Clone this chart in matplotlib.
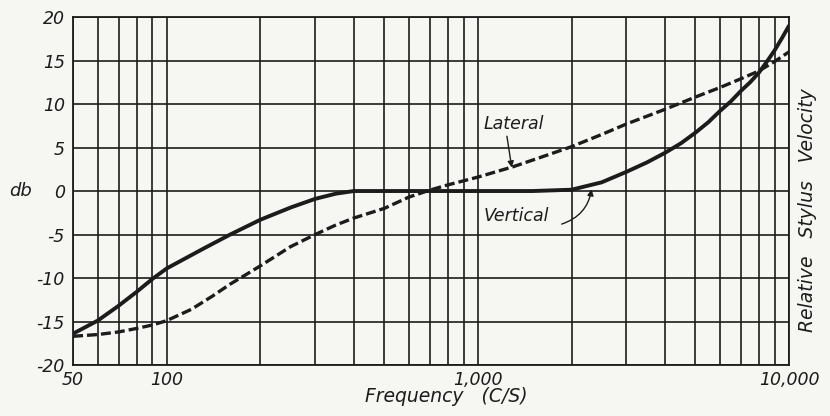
import matplotlib
matplotlib.use('Agg')
import matplotlib.pyplot as plt
from matplotlib.ticker import FixedLocator, NullFormatter

# values (frequency in c/s, level in db)
vert_freq = [50, 60, 70, 80, 90, 100, 130, 160, 200, 250, 300, 350, 400, 500, 700,
             1000, 1500, 2000, 2500, 3000, 3500, 4000, 4500, 5000, 5500, 6000, 6500,
             7000, 7500, 8000, 8500, 9000, 9500, 10000]
vert_db = [-16.4, -14.9, -13.2, -11.6, -10.1, -8.9, -6.7, -5.0, -3.3, -1.9, -0.9, -0.3, 0.0,
           0.0, 0.0, 0.0, 0.0, 0.15, 1.0, 2.2, 3.3, 4.4, 5.5, 6.7, 7.9, 9.2, 10.3,
           11.5, 12.5, 13.6, 14.9, 16.2, 17.6, 19.0]

lat_freq = [50, 60, 70, 80, 90, 100, 120, 140, 160, 180, 200, 250, 300, 350, 400, 500,
            600, 700, 800, 1000, 1300, 1600, 2000, 2500, 3000, 4000, 5000, 6000, 7000,
            8000, 9000, 10000]
lat_db = [-16.7, -16.5, -16.2, -15.8, -15.4, -14.9, -13.6, -12.1, -10.7, -9.6, -8.6, -6.4,
          -5.0, -3.9, -3.1, -2.0, -0.7, 0.1, 0.7, 1.6, 2.8, 3.9, 5.1, 6.5, 7.7, 9.4,
          10.8, 11.9, 12.9, 13.8, 14.9, 16.0]

major_freq = [50, 100, 1000, 10000]
major_labels = ['50', '100', '1,000', '10,000']
minor_freq = [60, 70, 80, 90, 200, 300, 400, 500, 600, 700, 800, 900,
              2000, 3000, 4000, 5000, 6000, 7000, 8000, 9000]
db_ticks = [-20, -15, -10, -5, 0, 5, 10, 15, 20]
db_labels = ['-20', '-15', '-10', '-5', '0', '5', '10', '15', '20']

ink = '#1c1c1c'
paper = '#f6f6f3'

plt.rcParams['font.family'] = ['DejaVu Sans']
plt.rcParams['font.style'] = 'italic'

fig = plt.figure(figsize=(8.3, 4.16), dpi=100, facecolor=paper)
ax = fig.add_axes([0.088, 0.1226, 0.8626, 0.8364])
ax.set_facecolor(paper)

ax.set_xscale('log')
ax.set_xlim(50, 10000)
ax.set_ylim(-20, 20)

ax.xaxis.set_major_locator(FixedLocator(major_freq))
ax.set_xticklabels(major_labels)
ax.xaxis.set_minor_locator(FixedLocator(minor_freq))
ax.xaxis.set_minor_formatter(NullFormatter())
ax.set_yticks(db_ticks)
ax.set_yticklabels(db_labels)

ax.grid(True, which='both', color=ink, linewidth=1.2)
ax.tick_params(which='both', length=0, colors=ink, labelsize=12.5)
ax.tick_params(axis='y', pad=6)
ax.tick_params(axis='x', pad=4)
for s in ax.spines.values():
    s.set_color(ink)
    s.set_linewidth(1.3)

ax.plot(vert_freq, vert_db, color=ink, linewidth=2.8, solid_capstyle='round', zorder=3)
ax.plot(lat_freq, lat_db, color=ink, linewidth=2.4, dashes=(3.0, 1.2), zorder=3)

# curve labels with their pointer arrows
arrow = dict(arrowstyle='-|>', color=ink, lw=1.0, mutation_scale=9, shrinkA=0, shrinkB=0)
ax.text(1300, 7.7, 'Lateral', ha='center', va='center', fontsize=12.5, color=ink)
ax.annotate('', xy=(1285, 2.7), xytext=(1240, 6.3), arrowprops=arrow)
ax.text(1330, -2.9, 'Vertical', ha='center', va='center', fontsize=12.5, color=ink)
ax.annotate('', xy=(2320, 0.2), xytext=(1860, -3.8),
            arrowprops=dict(arrow, connectionstyle='arc3,rad=0.3'))

ax.set_xlabel('Frequency   (C/S)', fontsize=13.5, color=ink)
ax.xaxis.set_label_coords(0.521, -0.064)
fig.text(0.025, 0.54, 'db', fontsize=13, color=ink, ha='center', va='center')
fig.text(0.973, 0.495, 'Relative   Stylus   Velocity', fontsize=13.5, color=ink,
         rotation=90, ha='center', va='center')

fig.savefig('out.png', dpi=100, facecolor=paper)
